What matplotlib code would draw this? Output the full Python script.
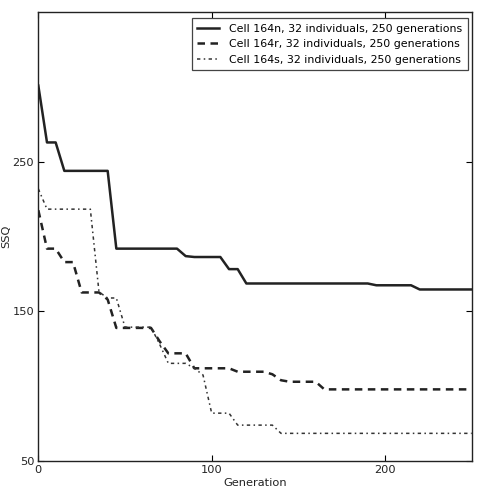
import matplotlib

matplotlib.use("Agg")
import matplotlib.pyplot as plt

# SSQ of the best individual, recorded every 5 generations (only the change points listed)
gens_n = [0, 5, 10, 15, 40, 45, 80, 85, 90, 105, 110, 115, 120, 190, 195, 215, 220, 250]
ssq_n = [301, 263, 263, 244, 244, 192, 192, 187, 186.4, 186.4, 178.3, 178.3, 168.7, 168.7,
         167.5, 167.5, 164.7, 164.7]

gens_r = [0, 5, 10, 15, 20, 25, 35, 40, 45, 65, 70, 75, 85, 90, 110, 115, 130, 135, 140,
          145, 160, 165, 250]
ssq_r = [217.7, 192, 192, 183, 183, 162.7, 162.7, 158, 139, 139, 130, 122, 122, 112, 112,
         109.7, 109.7, 108, 104, 103, 103, 97.9, 97.9]

gens_s = [0, 5, 30, 35, 40, 45, 50, 65, 70, 75, 85, 90, 95, 100, 110, 115, 135, 140, 250]
ssq_s = [232, 218.4, 218.4, 163, 159, 159, 139.5, 139.5, 128, 115.3, 115.3, 112, 107.5, 82,
         82, 74, 74, 68.5, 68.5]

labels = [
    "Cell 164n, 32 individuals, 250 generations",
    "Cell 164r, 32 individuals, 250 generations",
    "Cell 164s, 32 individuals, 250 generations",
]

x_ticks = [0, 100, 200]
y_ticks = [50, 150, 250]

plt.rcParams["font.family"] = "DejaVu Sans"
plt.rcParams["font.size"] = 8.2

fig = plt.figure(figsize=(4.79, 4.97), dpi=100)
ax = fig.add_axes([0.080, 0.0724, 0.9048, 0.9028])

ax.plot(gens_n, ssq_n, color="#222222", lw=1.8, ls="-", label=labels[0])
ax.plot(gens_r, ssq_r, color="#222222", lw=1.8, ls=(0, (3, 2.2)), label=labels[1])
ax.plot(gens_s, ssq_s, color="#333333", lw=1.1, ls=(0, (2.2, 2.2, 1, 2.2)), label=labels[2])

ax.set_xlim(0, 250)
ax.set_ylim(50, 350)
ax.set_xticks(x_ticks)
ax.set_yticks(y_ticks)
ax.tick_params(direction="in", length=4, width=0.8, top=True, right=True,
               labelcolor="#222222", pad=3)
for spine in ax.spines.values():
    spine.set_linewidth(1.0)
    spine.set_color("#222222")

ax.set_xlabel("Generation", color="#222222", labelpad=2)
ax.set_ylabel("SSQ", color="#222222", labelpad=1)

leg = ax.legend(loc="upper right", bbox_to_anchor=(0.9915, 0.9866), fancybox=False,
                framealpha=1, handlelength=2.0, borderaxespad=0, borderpad=0.5,
                labelspacing=0.5, handletextpad=0.9, fontsize=7.9)
leg.get_frame().set_edgecolor("#444444")
leg.get_frame().set_linewidth(0.9)

fig.savefig("out.png", dpi=100)
